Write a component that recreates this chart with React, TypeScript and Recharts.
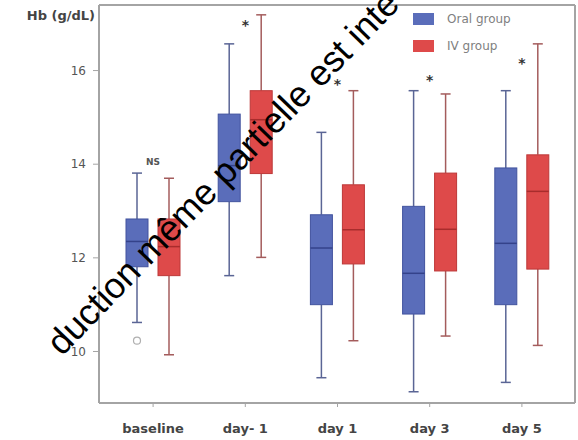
import React from 'react';
import { ComposedChart, Bar, Scatter, XAxis, YAxis, Legend, CartesianGrid } from 'recharts';

const categories = ['baseline', 'day- 1', 'day 1', 'day 3', 'day 5'];

const oralMin = [10.62, 11.62, 9.44, 9.14, 9.34];
const oralQ1 = [11.81, 13.2, 11.0, 10.8, 11.0];
const oralMedian = [12.35, 13.97, 12.21, 11.67, 12.31];
const oralQ3 = [12.83, 15.07, 12.92, 13.1, 13.92];
const oralMax = [13.81, 16.57, 14.68, 15.57, 15.57];
const oralOutliers = [[10.23], [], [], [], []];

const ivMin = [9.93, 12.01, 10.23, 10.33, 10.13];
const ivQ1 = [11.62, 13.8, 11.87, 11.72, 11.76];
const ivMedian = [12.24, 14.95, 12.6, 12.61, 13.42];
const ivQ3 = [12.83, 15.57, 13.56, 13.81, 14.2];
const ivMax = [13.7, 17.19, 15.57, 15.5, 16.57];
const ivOutliers = [[], [], [], [], []];

const sigLabels = ['NS', '*', '*', '*', '*'];
const sigY = [14.05, 17.03, 15.77, 15.86, 16.23];

const yTicks = [10, 12, 14, 16];
const yDomain = [8.9, 17.4];

const seriesNames = { oral: 'Oral group', iv: 'IV group' };
const legendOrder = [seriesNames.oral, seriesNames.iv];
const watermark = 'duction même partielle est inte';

const data = categories.map((c, i) => ({
  cat: c,
  oralBox: [oralQ1[i], oralQ3[i]],
  oralMin: oralMin[i],
  oralMedian: oralMedian[i],
  oralMax: oralMax[i],
  oralOutliers: oralOutliers[i],
  ivBox: [ivQ1[i], ivQ3[i]],
  ivMin: ivMin[i],
  ivMedian: ivMedian[i],
  ivMax: ivMax[i],
  ivOutliers: ivOutliers[i],
  sigY: sigY[i],
  sig: sigLabels[i],
}));

const styles = {
  oral: { fill: '#5a6dba', stroke: '#42539e', median: '#34428a', whisker: '#5a6595' },
  iv: { fill: '#de4a4a', stroke: '#bd3838', median: '#a82c2c', whisker: '#a45c5c' },
};

const makeBoxShape = (prefix: 'oral' | 'iv') => (props: any) => {
  const { x, y, width, height, payload } = props;
  const st = styles[prefix];
  const [q1, q3] = payload[prefix + 'Box'];
  const top = Math.min(y, y + height);
  const h = Math.abs(height);
  const k = h / (q3 - q1);
  const toPx = (v: number) => top + (q3 - v) * k;
  const cx = x + width / 2;
  const yMax = toPx(payload[prefix + 'Max']);
  const yMin = toPx(payload[prefix + 'Min']);
  const yMed = toPx(payload[prefix + 'Median']);
  const cap = 5;
  return (
    <g>
      <line x1={cx} x2={cx} y1={yMax} y2={top} stroke={st.whisker} strokeWidth={1.5} />
      <line x1={cx} x2={cx} y1={top + h} y2={yMin} stroke={st.whisker} strokeWidth={1.5} />
      <line x1={cx - cap} x2={cx + cap} y1={yMax} y2={yMax} stroke={st.whisker} strokeWidth={1.5} />
      <line x1={cx - cap} x2={cx + cap} y1={yMin} y2={yMin} stroke={st.whisker} strokeWidth={1.5} />
      <rect x={x} y={top} width={width} height={h} fill={st.fill} stroke={st.stroke} strokeWidth={1} />
      <line x1={x} x2={x + width} y1={yMed} y2={yMed} stroke={st.median} strokeWidth={1.5} />
      {(payload[prefix + 'Outliers'] as number[]).map((v, i) => (
        <circle key={i} cx={cx} cy={toPx(v)} r={3.5} fill="none" stroke="#b0b0b0" strokeWidth={1.2} />
      ))}
    </g>
  );
};

const SigShape = (props: any) => {
  const { cx, cy, payload } = props;
  if (payload.sig === 'NS') {
    return (
      <text x={cx} y={cy + 3} textAnchor="middle" fontSize={9} fontWeight="bold" fill="#555" fontFamily="DejaVu Sans">
        {payload.sig}
      </text>
    );
  }
  return (
    <text x={cx} y={cy + 8} textAnchor="middle" fontSize={14} fontWeight="bold" fill="#333" fontFamily="DejaVu Sans">
      {payload.sig}
    </text>
  );
};

const renderLegend = (props: any) => {
  const items = legendOrder
    .map((name) => (props.payload || []).find((p: any) => p.value === name))
    .filter(Boolean);
  return (
    <div style={{ fontFamily: 'DejaVu Sans', fontSize: 12, color: '#808080' }}>
      {items.map((p: any, i: number) => (
        <div key={i} style={{ display: 'flex', alignItems: 'center', height: 27 }}>
          <span style={{ display: 'inline-block', width: 21, height: 12, background: p.color }} />
          <span style={{ marginLeft: 13 }}>{p.value}</span>
        </div>
      ))}
    </div>
  );
};

const YTitle = (props: any) => {
  const { viewBox } = props;
  return (
    <text x={viewBox.x + viewBox.width - 4} y={viewBox.y + 15} textAnchor="end" fontSize={13} fontWeight="bold" fill="#444" fontFamily="DejaVu Sans">
      Hb (g/dL)
    </text>
  );
};

const axisColor = '#a4a4a4';
const xPadding = { left: 8, right: 7 };

const frameRows = (p: any) => [p.offset.top, p.offset.top + p.offset.height];
const frameCols = (p: any) => [p.offset.left, p.offset.left + p.offset.width];

export default function App() {
  return (
    <div style={{ position: 'absolute', left: 0, top: 0, width: 578, height: 440, background: '#fff' }}>
      <ComposedChart
        width={578}
        height={440}
        data={data}
        margin={{ top: 5, right: 3, bottom: 0, left: 39 }}
        barSize={22}
        barGap={10}
      >
        <CartesianGrid
          stroke={axisColor}
          strokeWidth={2}
          horizontalCoordinatesGenerator={frameRows}
          verticalCoordinatesGenerator={frameCols}
        />
        <XAxis
          dataKey="cat"
          padding={xPadding}
          height={37}
          tickSize={4}
          tickMargin={17}
          axisLine={{ stroke: axisColor, strokeWidth: 2 }}
          tickLine={{ stroke: axisColor }}
          tick={{ fontSize: 13, fontWeight: 'bold', fill: '#444', fontFamily: 'DejaVu Sans' }}
          interval={0}
        />
        <YAxis
          type="number"
          domain={yDomain}
          ticks={yTicks}
          width={60}
          tickSize={6}
          tickMargin={7}
          axisLine={{ stroke: axisColor, strokeWidth: 2 }}
          tickLine={{ stroke: axisColor }}
          tick={{ fontSize: 12, fill: '#555', fontFamily: 'DejaVu Sans' }}
          label={<YTitle />}
        />
        <Legend
          layout="horizontal"
          verticalAlign="middle"
          align="center"
          content={renderLegend}
          wrapperStyle={{ top: 5, left: 413, width: 150, height: 56 }}
        />
        <Bar dataKey="oralBox" name={seriesNames.oral} fill={styles.oral.fill} shape={makeBoxShape('oral')} isAnimationActive={false} />
        <Bar dataKey="ivBox" name={seriesNames.iv} fill={styles.iv.fill} shape={makeBoxShape('iv')} isAnimationActive={false} />
        <Scatter dataKey="sigY" shape={SigShape} legendType="none" isAnimationActive={false} />
      </ComposedChart>
      <svg width={578} height={440} style={{ position: 'absolute', left: 0, top: 0, pointerEvents: 'none' }}>
        <text transform="translate(62,357) rotate(-46)" fontSize={36} fontFamily="Liberation Sans" fill="#000">
          {watermark}
        </text>
      </svg>
    </div>
  );
}
